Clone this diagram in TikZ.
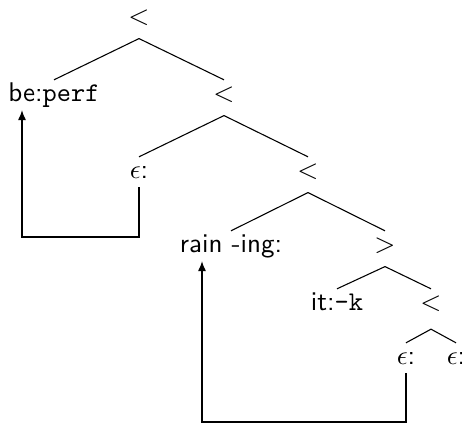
\documentclass[tikz,border=0pt]{standalone}
\usetikzlibrary{arrows.meta,calc}
\tikzset{
  lbl/.style={font=\sffamily,inner sep=1pt,text height=1.6ex,text depth=.45ex},
  edge/.style={line width=.4pt},
  back/.style={-{Latex[length=3.7pt,width=3pt]},line width=.4pt}
}

\begin{document}
\begin{tikzpicture}[x=0.37pt,y=-0.37pt]
\useasboundingbox (0,0) rectangle (462,424);

% tree nodes
\node[lbl] (r0) at (139,18) {$<$};
\node[lbl] (n1) at (54,95) {be:\texttt{perf}};
\node[lbl] (r1) at (224,95) {$<$};
\node[lbl] (e1) at (139,172) {$\epsilon$:};
\node[lbl] (r2) at (308,172) {$<$};
\node[lbl] (n3) at (231,246) {rain -ing:};
\node[lbl] (r3) at (385,246) {$>$};
\node[lbl] (n4) at (337,304) {it:\texttt{-k}};
\node[lbl] (r4) at (431,304) {$<$};
\node[lbl] (e2) at (406,358) {$\epsilon$:};
\node[lbl] (e3) at (456,358) {$\epsilon$:};

% branches
\foreach \p/\c in {r0/n1,r0/r1,r1/e1,r1/r2,r2/n3,r2/r3,r3/n4,r3/r4}
  \draw[edge] ([yshift=-2pt]\p.south) -- (\c.north);
\foreach \c in {e2,e3}
  \draw[edge] ([yshift=-3.7pt]r4.south) -- (\c.north);

% movement arrows
\coordinate (k1) at (22,237);
\coordinate (k2) at (202,422);
\draw[back] (e1.south) |- (k1) -- (k1 |- n1.south);
\draw[back] (e2.south) |- (k2) -- (k2 |- n3.south);

\end{tikzpicture}
\end{document}
